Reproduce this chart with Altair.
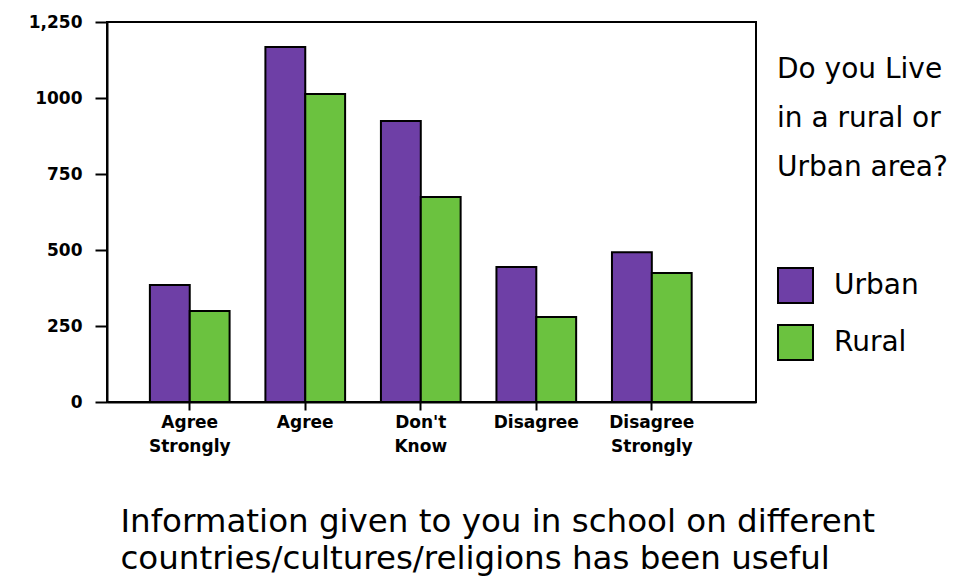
import altair as alt
import pandas as pd

categories = ["Agree Strongly", "Agree", "Don't Know", "Disagree", "Disagree Strongly"]
urban = [385, 1168, 924, 444, 493]
rural = [299, 1013, 674, 280, 424]
groups = ["Urban", "Rural"]
y_ticks = [0, 250, 500, 750, 1000, 1250]

rows = []
for c, u, r in zip(categories, urban, rural):
    rows.append({"cat": c, "area": "Urban", "count": u})
    rows.append({"cat": c, "area": "Rural", "count": r})
df = pd.DataFrame(rows)

FONT = "DejaVu Sans"

chart = alt.Chart(df).mark_bar(stroke="black", strokeWidth=2).encode(
    x=alt.X("cat:N", sort=categories,
            scale=alt.Scale(paddingInner=0.31, paddingOuter=0.464, align=0.4),
            axis=alt.Axis(
                title=["Information given to you in school on different",
                       "countries/cultures/religions has been useful"],
                titleFont=FONT, titleFontSize=32.5, titleFontWeight="normal",
                titleAnchor="start", titleAlign="left", titleX=13, titleY=129,
                titleBaseline="alphabetic", titleLineHeight=37, titleColor="black",
                labelExpr="split(datum.label, ' ')", labelAngle=0,
                labelFont=FONT, labelFontSize=17, labelFontWeight="bold",
                labelColor="black", labelLineHeight=24,
                labelPadding=4, tickSize=8, tickWidth=2, tickColor="black",
                domainColor="black", domainWidth=2)),
    xOffset=alt.XOffset("area:N", sort=groups),
    y=alt.Y("count:Q", scale=alt.Scale(domain=[0, 1250], nice=False),
            axis=alt.Axis(values=y_ticks, title=None,
                          labelExpr="datum.value == 1250 ? '1,250' : '' + datum.value",
                          labelFont=FONT, labelFontSize=17, labelFontWeight="bold",
                          labelColor="black",
                          labelPadding=13, tickSize=12, tickWidth=2, tickColor="black",
                          domainColor="black", domainWidth=2, grid=False,
                          minExtent=99, maxExtent=99)),
    color=alt.Color("area:N", sort=groups,
                    scale=alt.Scale(domain=groups, range=["#6E3FA6", "#6BC23F"]),
                    legend=alt.Legend(
                        title=["Do you Live", "in a rural or", "Urban area?"],
                        titleFont=FONT, titleFontSize=28, titleFontWeight="normal",
                        titleLineHeight=49, titleColor="black", titlePadding=85,
                        labelFont=FONT, labelFontSize=28, labelColor="black",
                        symbolType="square", symbolSize=1225, symbolStrokeColor="black",
                        symbolStrokeWidth=2, symbolOpacity=1, rowPadding=14,
                        labelOffset=20,
                        orient="none", legendX=670, legendY=34)),
).properties(
    width=649, height=380,
    padding={"left": 0, "top": 5, "right": 5, "bottom": 5},
).configure_view(
    stroke="black", strokeWidth=2
)

chart.save("out.html", embed_options={"renderer": "svg", "actions": False})
